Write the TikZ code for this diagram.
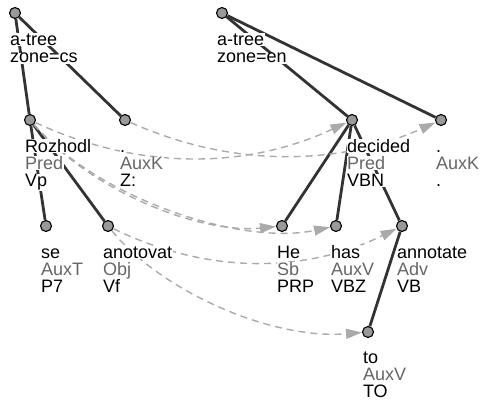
\documentclass[tikz,border=0pt]{standalone}
\usepackage{fontspec}
\setmainfont{Liberation Sans}
\usetikzlibrary{arrows.meta}
\definecolor{edgec}{HTML}{333333}
\definecolor{dotc}{HTML}{999999}
\definecolor{alnc}{HTML}{AAAAAA}
\definecolor{funcc}{HTML}{666666}
\newcommand\labfont{\fontsize{18}{18}\selectfont}
\tikzset{
  dot/.style={circle, draw=black, fill=dotc, line width=1.1pt, minimum size=11pt, inner sep=0pt},
  lab/.style={anchor=base west, fill=white, inner sep=0.5pt, outer sep=0pt, font=\labfont, text=black},
  labg/.style={lab, text=funcc},
  treeedge/.style={draw=edgec, line width=2.8pt},
  align/.style={draw=alnc, line width=1.4pt, dash pattern=on 7pt off 5pt,
    -{Triangle[length=16pt,width=10pt,fill=alnc]}},
}
% labels of a tree node: name, x, y, line1, line2, line3
\newcommand\tlab[6]{%
  \node[lab]  (#1-a) at (#2-5.5,#3+32.5) {#4};
  \node[labg] (#1-b) at (#2-5.5,#3+49.6) {#5};
  \node[lab]  (#1-c) at (#2-5.5,#3+66.5) {#6};}
% labels of a root node: name, x, y, line1, line2
\newcommand\rlab[5]{%
  \node[lab] (#1-a) at (#2-5.5,#3+32.5) {#4};
  \node[lab] (#1-b) at (#2-5.5,#3+50) {#5};}
\begin{document}
\begin{tikzpicture}[x=1pt,y=-1pt]
\useasboundingbox (0,0) rectangle (481,401);
% circles
\node[dot] (rootcs) at (15,13) {};
\node[dot] (rooten) at (222,13) {};
\node[dot] (rozhodl) at (30,120) {};
\node[dot] (auxkcs) at (125,120) {};
\node[dot] (decided) at (352,120) {};
\node[dot] (auxken) at (441,120) {};
\node[dot] (se) at (46,226) {};
\node[dot] (anotovat) at (108,226) {};
\node[dot] (he) at (282,226) {};
\node[dot] (has) at (336,226) {};
\node[dot] (annotate) at (402,226) {};
\node[dot] (to) at (368,332) {};
% tree edges
\draw[treeedge] (rootcs) -- (rozhodl);
\draw[treeedge] (rootcs) -- (auxkcs);
\draw[treeedge] (rozhodl) -- (se);
\draw[treeedge] (rozhodl) -- (anotovat);
\draw[treeedge] (rooten) -- (decided);
\draw[treeedge] (rooten) -- (auxken);
\draw[treeedge] (decided) -- (he);
\draw[treeedge] (decided) -- (has);
\draw[treeedge] (decided) -- (annotate);
\draw[treeedge] (annotate) -- (to);
% alignment links
\draw[align] (rozhodl) .. controls (137,170) and (245,170) .. (decided);
\draw[align] (auxkcs) .. controls (230,167) and (336,167) .. (auxken);
\draw[align] (rozhodl) .. controls (92,192) and (200,234) .. (he);
\draw[align] (rozhodl) .. controls (98,198) and (240,246) .. (has);
\draw[align] (anotovat) .. controls (206,274) and (304,274) .. (annotate);
\draw[align] (anotovat) .. controls (160,290) and (270,340) .. (to);
% labels (drawn last, white boxes hide the lines behind them)
\rlab{rootcs}{15}{13}{a-tree}{zone=cs}
\rlab{rooten}{222}{13}{a-tree}{zone=en}
\tlab{rozhodl}{30}{120}{Rozhodl}{Pred}{Vp}
\tlab{auxkcs}{125}{120}{.}{AuxK}{Z:}
\tlab{decided}{352}{120}{decided}{Pred}{VBN}
\tlab{auxken}{441}{120}{.}{AuxK}{.}
\tlab{se}{46}{226}{se}{AuxT}{P7}
\tlab{anotovat}{108}{226}{anotovat}{Obj}{Vf}
\tlab{he}{282}{226}{He}{Sb}{PRP}
\tlab{has}{336}{226}{has}{AuxV}{VBZ}
\tlab{annotate}{402}{226}{annotate}{Adv}{VB}
\tlab{to}{368}{331}{to}{AuxV}{TO}
\end{tikzpicture}
\end{document}
